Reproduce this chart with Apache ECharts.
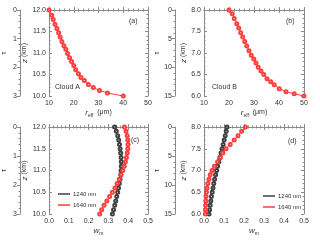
<!DOCTYPE html>
<html><head><meta charset="utf-8">
<script src="https://cdn.jsdelivr.net/npm/echarts@6/dist/echarts.min.js"></script>
<style>html,body{margin:0;padding:0;background:#fff}#c{width:320px;height:243px}</style>
</head><body><div id="c"></div>
<script>
// Panel (a) Cloud A: r_eff vs z
const zA = [12.0,11.88,11.78,11.67,11.57,11.47,11.37,11.27,11.17,11.09,10.99,10.89,10.80,10.71,10.61,10.52,10.43,10.36,10.27,10.20,10.13,10.07,10.0];
const rA = [10.0,11.1,11.7,12.4,13.2,13.9,14.5,15.2,16.0,16.8,17.5,18.3,19.1,20.0,20.8,21.9,22.9,24.3,25.9,27.9,30.4,33.6,40.0];
// Panel (b) Cloud B
const zB = [8.0,7.91,7.80,7.68,7.58,7.47,7.37,7.27,7.16,7.05,6.95,6.86,6.77,6.67,6.58,6.50,6.40,6.33,6.26,6.17,6.10,6.05,6.0];
const rB = [20.0,21.3,22.1,23.1,23.9,24.7,25.5,26.3,27.1,28.0,28.9,29.9,30.8,31.7,32.8,33.9,35.2,36.7,38.1,40.1,42.8,46.1,50.0];
// Panel (c) w_m, Cloud A
const zC = [12.0,11.9,11.8,11.7,11.6,11.5,11.4,11.3,11.2,11.1,11.0,10.9,10.8,10.7,10.6,10.5,10.4,10.3,10.2,10.1,10.0];
const wC1240 = [0.332,0.340,0.347,0.352,0.356,0.359,0.362,0.364,0.365,0.365,0.364,0.362,0.359,0.355,0.351,0.347,0.342,0.337,0.332,0.326,0.320];
const wC1640 = [0.381,0.389,0.395,0.398,0.399,0.398,0.395,0.391,0.386,0.380,0.373,0.364,0.355,0.344,0.333,0.320,0.306,0.292,0.278,0.266,0.256];
// Panel (d) w_m, Cloud B
const zD = [8.0,7.9,7.8,7.7,7.6,7.5,7.4,7.3,7.2,7.1,7.0,6.9,6.8,6.7,6.6,6.5,6.4,6.3,6.2,6.1,6.0];
const wD1240 = [0.115,0.111,0.106,0.101,0.096,0.090,0.085,0.079,0.074,0.068,0.063,0.058,0.053,0.049,0.045,0.041,0.037,0.034,0.031,0.028,0.025];
const wD1640 = [0.207,0.188,0.170,0.151,0.131,0.110,0.094,0.082,0.068,0.052,0.040,0.031,0.025,0.019,0.015,0.012,0.010,0.009,0.008,0.007,0.007];
const legendNames = ['1240 nm','1640 nm'];
const panelLabels = ['(a)','(b)','(c)','(d)'];
const cloudLabels = ['Cloud A','Cloud B'];

const FONT = 'Liberation Sans, Arial, sans-serif';
const TXT = '#333';
const LINE = '#8a8a8a';
const RED = '#ff3d3d';
const BLK = '#404040';

const panels = [
  {grid:{left:48,top:10,width:100,height:86}, x:[10,50,10], z:[10,12,0.5], tau:[0,3,1], xname:'r'},
  {grid:{left:204,top:10,width:100,height:86}, x:[10,50,10], z:[6,8,0.5], tau:[0,15,5], xname:'r'},
  {grid:{left:48,top:127,width:100,height:87}, x:[0,0.5,0.1], z:[10,12,0.5], tau:[0,3,1], xname:'w'},
  {grid:{left:204,top:127,width:100,height:87}, x:[0,0.5,0.1], z:[6,8,0.5], tau:[0,15,5], xname:'w'}
];

const grid=[], xAxis=[], yAxis=[], series=[];
const rich = {
  i:{fontStyle:'italic',fontSize:8,fontFamily:FONT,color:TXT},
  s:{fontSize:5,fontFamily:FONT,color:TXT,padding:[6,0,0,0]},
  n:{fontSize:7,fontFamily:FONT,color:TXT}
};
panels.forEach((p,k)=>{
  grid.push(p.grid);
  const xdec = p.xname==='w'?1:0;
  const base = {gridIndex:k,type:'value',min:p.x[0],max:p.x[1],interval:p.x[2],
    axisLine:{show:true,lineStyle:{color:LINE,width:1}},
    axisTick:{show:true,inside:true,length:3,lineStyle:{color:LINE}},
    minorTick:{show:true,splitNumber:5,length:1.5,lineStyle:{color:LINE}},
    splitLine:{show:false}};
  xAxis.push(Object.assign({},base,{position:'bottom',
    axisLabel:{fontSize:7,fontFamily:FONT,color:TXT,margin:4,formatter:v=>v.toFixed(xdec)},
    name: p.xname==='r' ? '{i|r}{s|eff}{n|  (μm)}' : '{i|w}{s|m}',
    nameLocation:'middle', nameGap: p.xname==='r'?11:11,
    nameTextStyle:{rich:rich}}));
  xAxis.push(Object.assign({},base,{position:'top',axisLabel:{show:false}}));
  const ybase = {gridIndex:k,type:'value',min:p.z[0],max:p.z[1],interval:p.z[2],
    axisLine:{show:true,onZero:false,lineStyle:{color:LINE,width:1}},
    axisTick:{show:true,inside:true,length:3,lineStyle:{color:LINE}},
    minorTick:{show:true,splitNumber:5,length:1.5,lineStyle:{color:LINE}},
    splitLine:{show:false}};
  yAxis.push(Object.assign({},ybase,{position:'left',
    axisLabel:{fontSize:7,fontFamily:FONT,color:TXT,margin:3,formatter:v=>v.toFixed(1)},
    name:'{i|z}{n| (km)}',nameLocation:'middle',nameGap:12,nameRotate:90,
    nameTextStyle:{rich:rich}}));
  yAxis.push(Object.assign({},ybase,{position:'right',axisLabel:{show:false}}));
  yAxis.push({gridIndex:k,type:'value',position:'left',offset:29,inverse:true,
    min:p.tau[0],max:p.tau[1],interval:p.tau[2],
    axisLine:{show:true,onZero:false,lineStyle:{color:LINE,width:1}},
    axisTick:{show:true,inside:false,length:3,lineStyle:{color:LINE}},
    minorTick:{show:true,splitNumber:5,length:1.5,lineStyle:{color:LINE}},
    splitLine:{show:false},
    axisLabel:{fontSize:7,fontFamily:FONT,color:TXT,margin:3},
    name:'τ',nameLocation:'middle',nameGap:12,nameRotate:90,
    nameTextStyle:{fontSize:7,fontFamily:FONT,color:TXT}});
});

function mk(name, xs, zs, xi, yi, color){
  return {type:'line',name:name,xAxisIndex:xi,yAxisIndex:yi,
    data:zs.map((z,i)=>[xs[i],z]),
    symbol:'emptyCircle',symbolSize:3,showSymbol:true,
    lineStyle:{color:color,width:1},itemStyle:{color:color,borderWidth:0.8},
    emphasis:{disabled:true},animation:false,z:3};
}
series.push(mk('A',rA,zA,0,0,RED));
series.push(mk('B',rB,zB,2,3,RED));
series.push(mk(legendNames[0],wC1240,zC,4,6,BLK));
series.push(mk(legendNames[1],wC1640,zC,4,6,RED));
series.push(mk(legendNames[0],wD1240,zD,6,9,BLK));
series.push(mk(legendNames[1],wD1640,zD,6,9,RED));

const lg = (left,top)=>({left:left,top:top,orient:'vertical',data:legendNames.map(n=>({name:n,icon:'rect'})),
  itemWidth:12,itemHeight:1.5,itemGap:5,selectedMode:false,
  textStyle:{fontSize:6,fontFamily:FONT,color:TXT,padding:[0,0,0,-2]}});

const txt=(x,y,t,fs)=>({type:'text',left:x,top:y,style:{text:t,fontSize:fs||7,fontFamily:FONT,fill:TXT}});

const chart = echarts.init(document.getElementById('c'),null,{renderer:'canvas'});
chart.setOption({
  animation:false,
  grid:grid,xAxis:xAxis,yAxis:yAxis,series:series,
  legend:[lg(53,186),lg(258,188)],
  graphic:[
    txt(129,18,panelLabels[0]),txt(286,18,panelLabels[1]),
    txt(131,137,panelLabels[2]),txt(288,138,panelLabels[3]),
    txt(55,84,cloudLabels[0]),txt(212,84,cloudLabels[1])
  ]
});
</script></body></html>
